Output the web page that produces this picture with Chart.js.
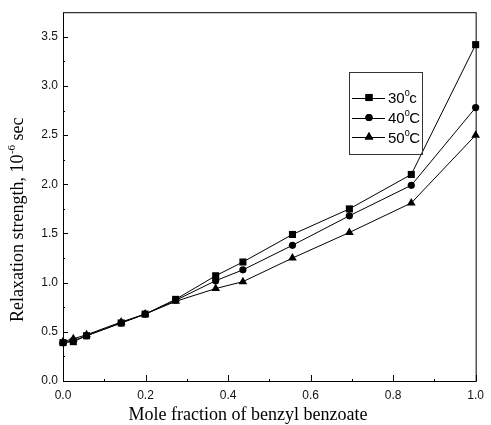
<!DOCTYPE html>
<html>
<head>
<meta charset="utf-8">
<script src="https://cdn.jsdelivr.net/npm/chart.js@4.4.0/dist/chart.umd.min.js"></script>
<style>
html,body{margin:0;padding:0;background:#fff;}
#wrap{width:491px;height:425px;position:relative;}
</style>
</head>
<body>
<div id="wrap"><canvas id="c" width="491" height="425"></canvas></div>
<script>
// Data
const moleFraction = [0, 0.025, 0.057, 0.141, 0.199, 0.273, 0.37, 0.436, 0.556, 0.694, 0.844, 1.0];
const strength30 = [0.39, 0.40, 0.46, 0.59, 0.68, 0.83, 1.07, 1.21, 1.49, 1.75, 2.10, 3.42];
const strength40 = [0.39, 0.41, 0.46, 0.59, 0.68, 0.82, 1.02, 1.13, 1.38, 1.68, 1.99, 2.78];
const strength50 = [0.40, 0.43, 0.47, 0.60, 0.68, 0.81, 0.94, 1.01, 1.25, 1.51, 1.81, 2.50];
const seriesLabels = ['30', '40', '50'];
const seriesUnits = ['c', 'C', 'C'];
const xTickValues = [0, 0.2, 0.4, 0.6, 0.8, 1.0];
const xMinorValues = [0.1, 0.3, 0.5, 0.7, 0.9];
const yTickValues = [0, 0.5, 1.0, 1.5, 2.0, 2.5, 3.0, 3.5];
const yMinorValues = [0.25, 0.75, 1.25, 1.75, 2.25, 2.75, 3.25];
const xTitle = 'Mole fraction of benzyl benzoate';
const yTitleParts = ['Relaxation strength, 10', '-6', ' sec'];

const styles = ['rect', 'circle', 'triangle'];
const radii = [5, 3.6, 5];

function toPts(ys){ return moleFraction.map((x,i)=>({x:x, y:ys[i]})); }

const datasets = [strength30, strength40, strength50].map((ys, i) => ({
  label: seriesLabels[i],
  data: toPts(ys),
  showLine: true,
  borderColor: '#000',
  borderWidth: 1,
  backgroundColor: '#000',
  pointStyle: styles[i],
  pointRadius: radii[i],
  pointBorderWidth: 0,
  pointBackgroundColor: '#000',
  clip: false
}));

const decor = {
  id: 'decor',
  afterDraw(chart) {
    const ctx = chart.ctx;
    const a = chart.chartArea;
    const xs = chart.scales.x, ys = chart.scales.y;
    ctx.save();
    // frame
    ctx.strokeStyle = '#000';
    ctx.lineWidth = 1;
    ctx.strokeRect(a.left + 0.5, a.top + 0.5, a.right - a.left, a.bottom - a.top);
    // ticks
    ctx.beginPath();
    xTickValues.forEach(v => { const px = Math.round(xs.getPixelForValue(v)) + 0.5; ctx.moveTo(px, a.bottom); ctx.lineTo(px, a.bottom - 6); });
    xMinorValues.forEach(v => { const px = Math.round(xs.getPixelForValue(v)) + 0.5; ctx.moveTo(px, a.bottom); ctx.lineTo(px, a.bottom - 2); });
    yTickValues.forEach(v => { const py = Math.round(ys.getPixelForValue(v)) + 0.5; ctx.moveTo(a.left, py); ctx.lineTo(a.left + 5, py); });
    yMinorValues.forEach(v => { const py = Math.round(ys.getPixelForValue(v)) + 0.5; ctx.moveTo(a.left, py); ctx.lineTo(a.left + 2, py); });
    ctx.stroke();

    // x title
    ctx.fillStyle = '#000';
    ctx.font = '18px "Liberation Serif", serif';
    ctx.textAlign = 'center';
    ctx.textBaseline = 'alphabetic';
    ctx.fillText(xTitle, 248, 420);

    // y title with superscript
    ctx.save();
    ctx.translate(23, 220);
    ctx.rotate(-Math.PI / 2);
    const bigF = '18px "Liberation Serif", serif';
    const smallF = '11px "Liberation Serif", serif';
    ctx.font = bigF; const w1 = ctx.measureText(yTitleParts[0]).width; const w3 = ctx.measureText(yTitleParts[2]).width;
    ctx.font = smallF; const w2 = ctx.measureText(yTitleParts[1]).width;
    let x0 = -(w1 + w2 + w3) / 2;
    ctx.textAlign = 'left';
    ctx.font = bigF; ctx.fillText(yTitleParts[0], x0, 0);
    ctx.font = smallF; ctx.fillText(yTitleParts[1], x0 + w1 + 0.5, -8);
    ctx.font = bigF; ctx.fillText(yTitleParts[2], x0 + w1 + w2 + 0.5, 0);
    ctx.restore();

    // legend box
    const lx = 349, ly = 72, lw = 73, lh = 82;
    ctx.strokeStyle = '#333';
    ctx.lineWidth = 1;
    ctx.strokeRect(lx + 0.5, ly + 0.5, lw, lh);
    const rowsY = [97.5, 117.5, 137];
    rowsY.forEach((ry, i) => {
      ctx.strokeStyle = '#000';
      ctx.beginPath();
      ctx.moveTo(352, Math.round(ry) + 0.5);
      ctx.lineTo(385, Math.round(ry) + 0.5);
      ctx.stroke();
      Chart.helpers.drawPoint(ctx, {pointStyle: styles[i], radius: radii[i], borderWidth: 0, rotation: 0}, 369, ry);
      ctx.fillStyle = '#000';
      ctx.fill();
      ctx.textAlign = 'left';
      ctx.textBaseline = 'alphabetic';
      ctx.font = '15px "Liberation Sans", Arial, sans-serif';
      const tw = ctx.measureText(seriesLabels[i]).width;
      ctx.fillText(seriesLabels[i], 388, ry + 5.5);
      ctx.font = '9px "Liberation Sans", Arial, sans-serif';
      const sw = ctx.measureText('0').width;
      ctx.fillText('0', 388 + tw, ry - 1.5);
      ctx.font = '15px "Liberation Sans", Arial, sans-serif';
      ctx.fillText(seriesUnits[i], 388 + tw + sw - 0.5, ry + 5.5);
    });
    ctx.restore();
  }
};

new Chart(document.getElementById('c'), {
  type: 'scatter',
  data: { datasets },
  options: {
    responsive: false,
    animation: false,
    devicePixelRatio: 1,
    layout: { padding: { left: 0, top: 10, right: 10, bottom: 0 } },
    plugins: { legend: { display: false }, tooltip: { enabled: false } },
    scales: {
      x: {
        type: 'linear', min: 0, max: 1,
        grid: { display: false, drawTicks: false },
        border: { display: false },
        afterBuildTicks: s => { s.ticks = xTickValues.map(v => ({ value: v })); },
        afterFit: s => { s.height = 44; },
        ticks: {
          padding: 7,
          color: '#111',
          font: { family: '"Liberation Sans", Arial, sans-serif', size: 12 },
          maxRotation: 0,
          callback: v => Number(v).toFixed(1)
        }
      },
      y: {
        type: 'linear', min: 0, max: 3.75,
        grid: { display: false, drawTicks: false },
        border: { display: false },
        afterBuildTicks: s => { s.ticks = yTickValues.map(v => ({ value: v })); },
        afterFit: s => { s.width = 63; },
        ticks: {
          padding: 5,
          color: '#111',
          font: { family: '"Liberation Sans", Arial, sans-serif', size: 12 },
          callback: v => Number(v).toFixed(1)
        }
      }
    }
  },
  plugins: [decor]
});
</script>
</body>
</html>
